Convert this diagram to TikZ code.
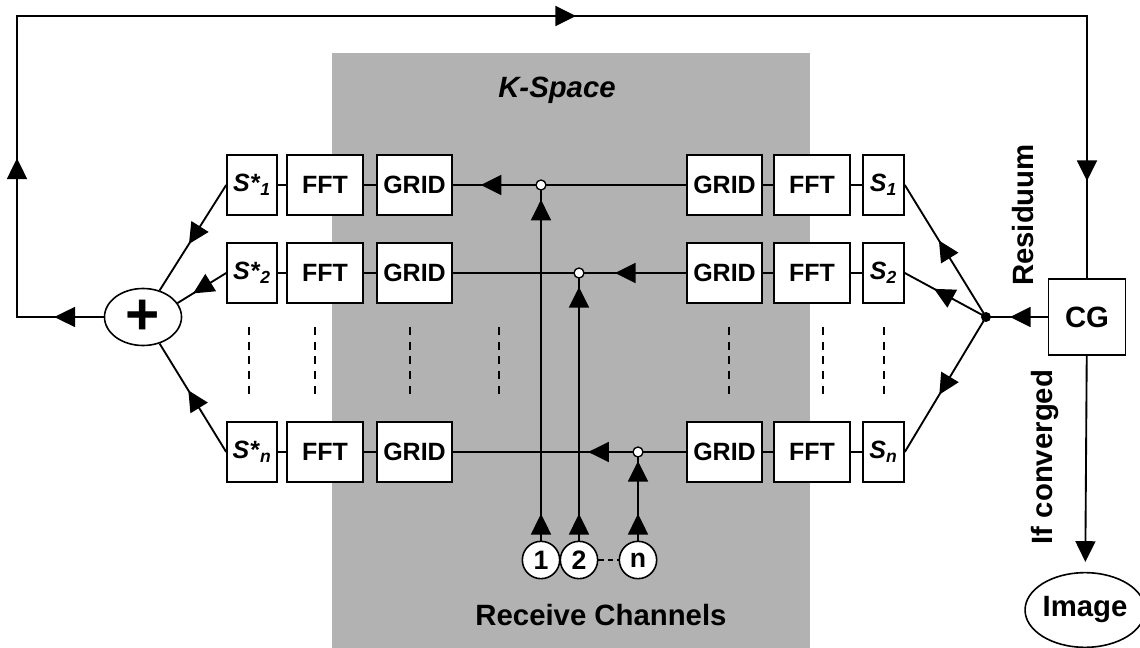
\documentclass[tikz,border=0pt]{standalone}
\usepackage{fontspec}
\setmainfont{Liberation Sans}
\usetikzlibrary{arrows.meta,decorations.markings,shapes.geometric}
\definecolor{kgray}{RGB}{178,178,178}
\tikzset{
  >={Triangle[length=15.5pt,width=15pt]},
  lbl/.style={font=\fontsize{18.75pt}{20pt}\selectfont\bfseries},
  big/.style={font=\fontsize{22pt}{24pt}\selectfont\bfseries},
  box/.style={draw, line width=1.2pt, fill=white, inner sep=0pt, minimum height=45pt, lbl},
  sbox/.style={box, minimum width=37.5pt},
  fbox/.style={box, minimum width=57pt},
  gbox/.style={box, minimum width=56.25pt},
  rbox/.style={box, minimum width=30.75pt},
  wire/.style={line width=1.4pt},
  link/.style={line width=1.1pt},
  hole/.style={circle, draw, fill=white, line width=1pt, inner sep=0pt, minimum size=7.5pt},
  jdot/.style={circle, fill=black, inner sep=0pt, minimum size=7.5pt},
  chan/.style={circle, draw, fill=white, line width=1.2pt, inner sep=0pt, minimum size=28pt,
               font=\fontsize{20pt}{22pt}\selectfont\bfseries},
  gap/.style={line width=1.4pt, dash pattern=on 6pt off 5pt},
  tipat/.style={postaction={decorate, decoration={markings, mark=at position #1 with {\arrow{>}}}}},
}
\begin{document}
\begin{tikzpicture}[x=0.75pt,y=-0.75pt]
\useasboundingbox (0,0) rectangle (1140,648);

% k-space region
\fill[kgray] (332,53) rectangle (810,648);
\node[font=\fontsize{22pt}{24pt}\selectfont\bfseries\itshape] (ks) at (557,90) {K-Space};

% coil chains: adjoint sensitivities on the left, forward on the right
\foreach \r/\y/\k in {1/185/1, 2/273/2, 3/452/n} {
  \node[sbox] (sl\r) at (252,\y) {\textit{S*}\textsubscript{\textit{\k}}};
  \node[fbox] (fl\r) at (325,\y) {FFT};
  \node[gbox] (gl\r) at (414.5,\y) {GRID};
  \node[gbox] (gr\r) at (724.5,\y) {GRID};
  \node[fbox] (fr\r) at (812,\y) {FFT};
  \node[rbox] (sr\r) at (883.5,\y) {\textit{S}\textsubscript{\textit{\k}}};
  \draw[link] (sl\r) -- (fl\r);
  \draw[link] (fl\r) -- (gl\r);
  \draw[link] (gr\r) -- (fr\r);
  \draw[link] (fr\r) -- (sr\r);
}

% elided rows
\foreach \x in {249,315,410,499,729,823,884}
  \draw[gap] (\x,327) -- (\x,400);

% receive channels
\node[chan] (c1) at (541,560) {1};
\node[chan] (c2) at (579,560) {2};
\node[chan] (cn) at (638,560) {n};
\draw[link, dash pattern=on 4pt off 3pt] (c2) -- (cn);
\node[big] (rc) at (601,615) {Receive Channels};

% junctions where the channel data enter
\coordinate (j1) at (541,185);
\coordinate (j2) at (579,273);
\coordinate (j3) at (638,452);
\draw[wire, tipat=0.88] (gr1) -- (gl1);
\draw[wire, tipat=0.305] (gr2) -- (gl2);
\draw[wire, tipat=0.42] (gr3) -- (gl3);
\draw[wire, tipat=20pt, tipat=-11pt] (c1) -- (j1);
\draw[wire, tipat=20pt, tipat=-10.5pt] (c2) -- (j2);
\draw[wire, tipat=20pt, tipat=-6.75pt] (cn) -- (j3);
\node[hole] (h1) at (j1) {};
\node[hole] (h2) at (j2) {};
\node[hole] (h3) at (j3) {};

% summation
\node[ellipse, draw, line width=1.2pt, fill=white, inner sep=0pt,
      minimum width=57.75pt, minimum height=42.75pt,
      font=\fontsize{44pt}{44pt}\selectfont\bfseries] (plus) at (143,317) {+};
\draw[wire, tipat=0.56] (sl1.west) -- (plus.58);
\draw[wire, tipat=0.68] (sl2.west) -- (plus.22);
\draw[wire, tipat=0.57] (sl3.west) -- (plus.-58);

% conjugate gradient solver
\node[box, minimum width=57.75pt, minimum height=57pt, font=\fontsize{22pt}{24pt}\selectfont\bfseries] (cg) at (1087,317) {CG};
\coordinate (jd) at (986,317);
\draw[wire, tipat=0.61] (cg.west) -- (jd);
\draw[wire, tipat=0.58] (jd) -- (sr1.east);
\draw[wire, tipat=0.64] (jd) -- (sr2.east);
\draw[wire, tipat=0.575] (jd) -- (sr3.east);
\node[jdot] (d) at (jd) {};

% feedback loop from the sum back to the solver
\coordinate (lb) at (17,317);
\coordinate (lt) at (17,16);
\coordinate (rt) at (1087,16);
\draw[wire, postaction={decorate, decoration={markings,
      mark=at position 37pt with {\arrow{>}},
      mark=at position 184pt with {\arrow{>}},
      mark=at position 710pt with {\arrow{>}},
      mark=at position 1217pt with {\arrow{>}}}}]
  (plus.west) -- (lb) -- (lt) -- (rt) -- (cg.north);
\node[big, rotate=90] (res) at (1023,215) {Residuum};

% output
\node[ellipse, draw, line width=1.2pt, inner sep=0pt, minimum width=78.75pt,
      minimum height=56pt, big] (img) at (1085,610) {Image};
\draw[wire, ->, shorten >=7.5pt] (cg) -- (img);
\node[big, rotate=90] (conv) at (1045,457) {If converged};
\end{tikzpicture}
\end{document}
